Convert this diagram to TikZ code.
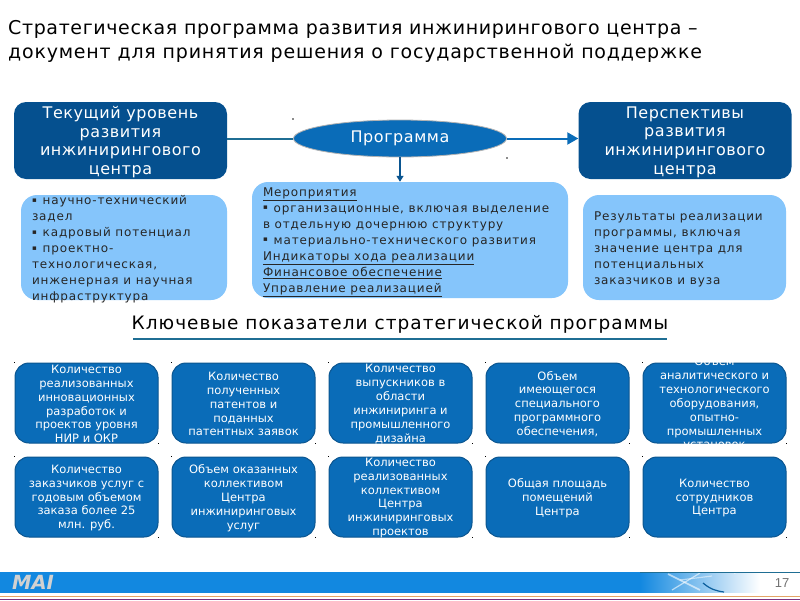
\documentclass[tikz,border=0pt]{standalone}
\usepackage{fontspec}
\setmainfont{DejaVu Sans}
\newfontfamily\gridfont{DejaVu Sans}[LetterSpace=0]
\newfontfamily\headfont{DejaVu Sans}[LetterSpace=3.5]
\newfontfamily\infofont{DejaVu Sans}[LetterSpace=7]
\newfontfamily\titlefont{DejaVu Sans}[LetterSpace=3.3]
\newfontfamily\titlefontb{DejaVu Sans}[LetterSpace=4.2]
\newfontfamily\keyfont{DejaVu Sans}[LetterSpace=5.5]
\newfontfamily\numfont{Liberation Sans}
\usetikzlibrary{shapes.geometric,arrows.meta}
\definecolor{darkb}{HTML}{05508F}
\definecolor{lightb}{HTML}{85C5FB}
\definecolor{midb}{HTML}{0A6CB8}
\definecolor{edgeb}{HTML}{0A5590}
\definecolor{barb}{HTML}{1288E0}
\definecolor{teal}{HTML}{1F6E94}
\def\flowdrop{0pt}
\newcommand{\flowtext}[3]{\raisebox{\flowdrop}[0pt][0pt]{\parbox{#1}{#2#3}}}
\newcommand{\bul}{\raisebox{2.5pt}{\fontsize{7}{7}\selectfont ▪}\hspace{6pt}}
\tikzset{
  x=1pt,y=-1pt,
  headbox/.style={draw=none,fill=darkb,rounded corners=12pt,minimum width=213pt,minimum height=77pt,inner sep=0pt,text=white,font=\headfont\fontsize{16}{18.8}\selectfont,execute at begin node={\def\flowdrop{-6pt}}},
  infobox/.style={draw=none,fill=lightb,rounded corners=16pt,inner sep=0pt,text=black!85,font=\infofont\fontsize{12}{16}\selectfont,execute at begin node={\def\flowdrop{-5pt}}},
  gridbox/.style={draw=edgeb,line width=1pt,fill=midb,rounded corners=14pt,minimum width=143pt,minimum height=80pt,inner sep=0pt,text=white,font=\gridfont\fontsize{11.5}{13.9}\selectfont,execute at begin node={\def\flowdrop{-4pt}}},
  dot/.style={fill=black,minimum size=1.6pt,inner sep=0pt,draw=none},
  faintdot/.style={fill=black!45,minimum size=1.4pt,inner sep=0pt,draw=none},
  flow/.style={draw=midb,line width=2pt,-{Triangle[length=11pt,width=12pt]}},
  downflow/.style={draw=edgeb,line width=1.3pt,-{Triangle[length=6pt,width=7pt]}},
  titletext/.style={font=\titlefont\fontsize{19}{24}\selectfont,align=left,inner sep=0pt,text=black}
}
\begin{document}
\begin{tikzpicture}
\useasboundingbox (0,0) rectangle (800,600);
\fill[white] (0,0) rectangle (800,600);
\node[titletext,anchor=west] (title) at (8,41) {Стратегическая программа развития инжинирингового центра –\\{\titlefontb документ для принятия решения о государственной поддержке}};

\node[headbox] (cur) at (120.5,140.5) {\flowtext{205pt}{\centering}{Текущий уровень\\развития\\инжинирингового\\центра}};
\node[headbox] (per) at (685,140.5) {\flowtext{205pt}{\centering}{Перспективы\\развития\\инжинирингового\\центра}};
\node[ellipse,draw=black!30,line width=0.8pt,fill=midb,minimum width=213pt,minimum height=37pt,inner sep=0pt,text=white,font=\headfont\fontsize{16}{19}\selectfont] (prog) at (400,138.5) {\raisebox{-1pt}{Программа}};
\draw[draw=teal,line width=2pt] (cur.east|-prog) -- (prog.west);
\draw[flow] (prog.east) -- (per.west|-prog);

\node[infobox,minimum width=206pt,minimum height=105pt] (a) at (124,247.5) {\flowtext{184pt}{\raggedright}{\bul научно-технический\\задел\\\bul кадровый потенциал\\\bul проектно-\\технологическая,\\инженерная и научная\\инфраструктура}};
\node[infobox,minimum width=316pt,minimum height=116pt] (b) at (410,240) {\flowtext{294pt}{\raggedright}{\underline{Мероприятия}\\\bul организационные, включая выделение\\в отдельную дочернюю структуру\\\bul материально-технического развития\\\underline{Индикаторы хода реализации}\\\underline{Финансовое обеспечение}\\\underline{Управление реализацией}}};
\node[infobox,minimum width=203pt,minimum height=105pt] (c) at (684.5,247.5) {\flowtext{181pt}{\raggedright}{Результаты реализации\\программы, включая\\значение центра для\\потенциальных\\заказчиков и вуза}};
\draw[downflow] (prog.south) -- (b.north-|prog);

\node[inner sep=0pt,font=\keyfont\fontsize{18.5}{20}\selectfont,text=black] (kp) at (400,324.5) {Ключевые показатели стратегической программы};
\coordinate (kl) at (133,339); \coordinate (kr) at (667,339);
\draw[draw=teal,line width=1.6pt] (kl) -- (kr);

\node[gridbox] (g1) at (86.5,403) {\flowtext{135pt}{\centering}{Количество\\реализованных\\инновационных\\разработок и\\проектов уровня\\НИР и ОКР}};
\node[gridbox] (g2) at (243.5,403) {\flowtext{135pt}{\centering}{Количество\\полученных\\патентов и\\поданных\\патентных заявок}};
\node[gridbox] (g3) at (400.5,403) {\flowtext{135pt}{\centering}{Количество\\выпускников в\\области\\инжиниринга и\\промышленного\\дизайна}};
\node[gridbox] (g4) at (557.5,403) {\flowtext{135pt}{\centering}{Объем\\имеющегося\\специального\\программного\\обеспечения,}};
\node[gridbox] (g5) at (714.5,403) {\flowtext{135pt}{\centering}{Объем\\аналитического и\\технологического\\оборудования,\\опытно-\\промышленных\\установок}};
\node[gridbox] (g6) at (86.5,497) {\flowtext{135pt}{\centering}{Количество\\заказчиков услуг с\\годовым объемом\\заказа более 25\\млн. руб.}};
\node[gridbox] (g7) at (243.5,497) {\flowtext{135pt}{\centering}{Объем оказанных\\коллективом\\Центра\\инжиниринговых\\услуг}};
\node[gridbox] (g8) at (400.5,497) {\flowtext{135pt}{\centering}{Количество\\реализованных\\коллективом\\Центра\\инжиниринговых\\проектов}};
\node[gridbox] (g9) at (557.5,497) {\flowtext{135pt}{\centering}{Общая площадь\\помещений\\Центра}};
\node[gridbox] (g10) at (714.5,497) {\flowtext{135pt}{\centering}{Количество\\сотрудников\\Центра}};

\foreach \n in {g1,g2,g3,g4,g5,g6,g7,g8,g9,g10}{
  \node[dot] at (\n.north west) {};
  \node[dot] at (\n.south east) {};
}
\node[faintdot] at (prog.west|-0,119) {};
\node[faintdot] at (prog.east|-0,158) {};

% footer
\fill[barb] (0,572) rectangle (640,592.5);
\shade[left color=barb,right color=white,shading=axis] (640,572) rectangle (760,592.5);
\begin{scope}
\clip (640,572) rectangle (760,592.5);
\draw[white,opacity=.6,line width=1.6pt] (668,574) -- (700,590);
\draw[white,opacity=.6,line width=1.2pt] (672,590) -- (700,573);
\draw[white,opacity=.5,line width=1.2pt] (680,580) -- (712,576);
\draw[barb!70!black,line width=1.2pt] (703,583) .. controls (710,589) and (716,591) .. (724,592);
\draw[black!25,opacity=.7,line width=.7pt] (756,572) arc (0:-140:20);
\draw[white,opacity=.6,line width=1pt] (735,574) arc (0:-120:14);
\end{scope}
\draw[teal,line width=.6pt] (640,572) -- (800,572);
\fill[orange!40!brown!70] (0,595.5) rectangle (800,596.5);
\fill[violet!60!gray] (0,598.5) rectangle (800,599.5);
\node[inner sep=0pt,text=white!82!black,font=\bfseries\itshape\fontsize{19.5}{20}\selectfont] (logo) at (33,582.5) {MAI};
\node[inner sep=0pt,text=black!55,font=\numfont\fontsize{13}{13}\selectfont] (num) at (782,583) {17};
\end{tikzpicture}
\end{document}
